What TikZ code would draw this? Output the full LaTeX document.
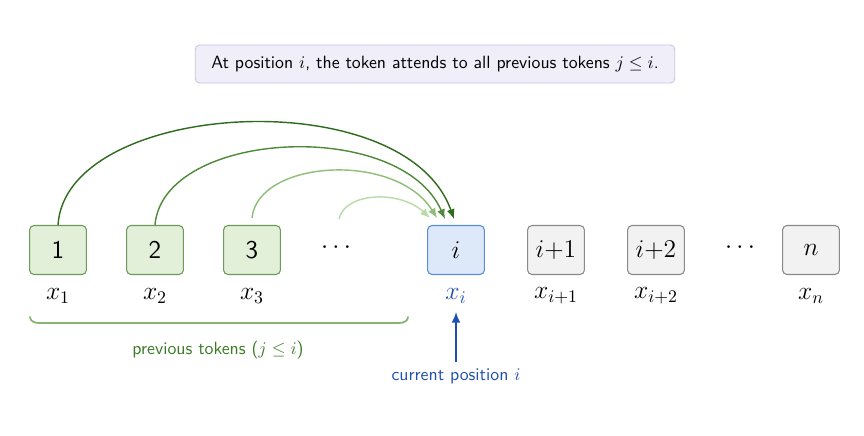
\documentclass[tikz,border=0pt]{standalone}
\usetikzlibrary{arrows.meta}
\definecolor{titlefill}{HTML}{EFEEF9}
\definecolor{titledraw}{HTML}{C9C6E6}
\definecolor{gfill}{HTML}{E2F0D9}
\definecolor{gdraw}{HTML}{6B9A5B}
\definecolor{bfill}{HTML}{DDE8F8}
\definecolor{bdraw}{HTML}{5B8DD9}
\definecolor{nfill}{HTML}{F2F2F2}
\definecolor{ndraw}{HTML}{8A8A8A}
\definecolor{arcA}{HTML}{2F6B1E}
\definecolor{arcB}{HTML}{4E8A3A}
\definecolor{arcC}{HTML}{8EBE78}
\definecolor{arcD}{HTML}{B9DBA8}
\definecolor{bracec}{HTML}{86B571}
\definecolor{prevtext}{HTML}{3A7A25}
\definecolor{curblue}{HTML}{1F4FAF}
\tikzset{
  tok/.style={rounded corners=2.5pt, minimum width=32pt, minimum height=27.6pt, font=\Large, line width=0.6pt},
  gtok/.style={tok, fill=gfill, draw=gdraw},
  btok/.style={tok, fill=bfill, draw=bdraw},
  ntok/.style={tok, fill=nfill, draw=ndraw},
  xlab/.style={font=\Large},
  attarc/.style={line width=0.8pt, -{Latex[length=5.5pt,width=4.5pt]}}
}
\begin{document}
\begin{tikzpicture}[x=0.563pt,y=-0.563pt]
\useasboundingbox (0,0) rectangle (864,436);
\node[fill=titlefill, draw=titledraw, rounded corners=2.5pt, minimum width=270pt, minimum height=21.4pt, font=\sffamily, line width=0.5pt] (title) at (435,64) {At position $i$, the token attends to all previous tokens $j \le i$.};
\node[gtok] (t1) at (58,250) {\sffamily 1};
\node[gtok] (t2) at (155,250) {\sffamily 2};
\node[gtok] (t3) at (252,250) {\sffamily 3};
\node[font=\Large] (d1) at (336,248) {$\cdots$};
\node[btok] (ti) at (456,250) {$i$};
\node[ntok] (ti1) at (556,250) {$i{+}1$};
\node[ntok] (ti2) at (656,250) {$i{+}2$};
\node[font=\Large] (d2) at (740,248) {$\cdots$};
\node[ntok] (tn) at (811,250) {$n$};
\node[xlab] (x1) at (58,296) {$x_1$};
\node[xlab] (x2) at (155,296) {$x_2$};
\node[xlab] (x3) at (252,296) {$x_3$};
\node[xlab, text=curblue] (xi) at (456,296) {$x_i$};
\node[xlab] (xi1) at (556,296) {$x_{i+1}$};
\node[xlab] (xi2) at (656,296) {$x_{i+2}$};
\node[xlab] (xn) at (811,296) {$x_n$};
\coordinate (e1) at (454,219);
\coordinate (e2) at (445,219);
\coordinate (e3) at (437,218);
\coordinate (e4) at (430,218);
\coordinate (s4) at (339,219);
\draw[attarc, arcA] (t1.north) .. controls (66,100) and (405,80) .. (e1);
\draw[attarc, arcB] (t2.north) .. controls (163,130) and (400,117) .. (e2);
\draw[attarc, arcC] ([yshift=4pt]t3.north) .. controls (258,160) and (395,151) .. (e3);
\draw[attarc, arcD] (s4) .. controls (345,192) and (400,190) .. (e4);
\coordinate (bl) at (30,317);
\coordinate (br) at (408,317);
\draw[bracec, line width=1pt, line cap=round] (bl) to[out=-90,in=180] ([shift={(9,6)}]bl) -- ([shift={(-9,6)}]br) to[out=0,in=-90] (br);
\node[text=prevtext, font=\sffamily] (prev) at (218,350) {previous tokens ($j \le i$)};
\node[text=curblue, font=\sffamily] (cur) at (456,376) {current position $i$};
\draw[curblue, line width=1pt, -{Latex[length=6pt,width=5pt]}] (cur.north) -- (456,312);
\end{tikzpicture}
\end{document}
